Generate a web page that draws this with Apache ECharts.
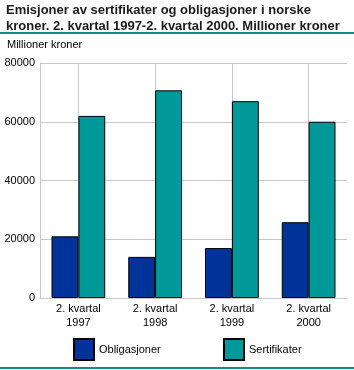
<!DOCTYPE html>
<html>
<head>
<meta charset="utf-8">
<script src="https://cdn.jsdelivr.net/npm/echarts@6/dist/echarts.min.js"></script>
<style>
  html, body { margin: 0; padding: 0; background: #fff; }
  #main { width: 354px; height: 370px; }
</style>
</head>
<body>
<div id="main"></div>
<script>
// data
const categories = ["2. kvartal\n1997", "2. kvartal\n1998", "2. kvartal\n1999", "2. kvartal\n2000"];
const obligasjoner = [21000, 14000, 17000, 25800];
const sertifikater = [62000, 70700, 67000, 60000];
const yTicks = [0, 20000, 40000, 60000, 80000];

const chartDom = document.getElementById("main");
const myChart = echarts.init(chartDom);

const font = "Liberation Sans, Arial, sans-serif";

const option = {
  animation: false,
  title: [
    {
      text: "Emisjoner av sertifikater og obligasjoner i norske\nkroner. 2. kvartal 1997-2. kvartal 2000. Millioner kroner",
      left: 1,
      top: -3,
      textStyle: { fontFamily: font, fontSize: 13, fontWeight: "bold", color: "#1a1a1a", lineHeight: 16 }
    },
    {
      text: "Millioner kroner",
      left: 2,
      top: 34,
      textStyle: { fontFamily: font, fontSize: 11, fontWeight: "normal", color: "#000" }
    }
  ],
  graphic: [
    { type: "rect", shape: { x: 0, y: 32, width: 354, height: 2 }, style: { fill: "#0a8c8c" } },
    { type: "rect", shape: { x: 0, y: 367, width: 354, height: 2 }, style: { fill: "#0a8c8c" } }
  ],
  legend: [
    {
      data: ["Obligasjoner"],
      left: 68, top: 333,
      itemWidth: 20, itemHeight: 21, itemGap: 6,
      icon: "rect",
      textStyle: { fontFamily: font, fontSize: 11, color: "#000" }
    },
    {
      data: ["Sertifikater"],
      left: 218, top: 333,
      itemWidth: 20, itemHeight: 21,
      icon: "rect",
      textStyle: { fontFamily: font, fontSize: 11, color: "#000" }
    }
  ],
  grid: { left: 40, right: 7, top: 63, bottom: 72, containLabel: false },
  xAxis: [
    {
      type: "category",
      data: categories,
      axisLine: { lineStyle: { color: "#c8c8c8" } },
      axisTick: { show: false },
      splitLine: { show: false },
      axisLabel: { fontFamily: font, fontSize: 11, color: "#000", lineHeight: 14, margin: 4 }
    },
    {
      // hidden helper axis: vertical grid lines at category centres
      type: "value",
      min: 0,
      max: 8,
      interval: 1,
      position: "bottom",
      axisLine: { show: false },
      axisTick: { show: false },
      axisLabel: { show: false },
      splitLine: {
        show: true,
        lineStyle: { color: ["rgba(0,0,0,0)", "#c8c8c8"] }
      }
    }
  ],
  yAxis: {
    type: "value",
    min: 0,
    max: 80000,
    interval: 20000,
    axisLine: { show: true, lineStyle: { color: "#c8c8c8" } },
    axisTick: { show: false },
    splitLine: { lineStyle: { color: "#c8c8c8" } },
    axisLabel: {
      fontFamily: font, fontSize: 11, color: "#000", margin: 5,
      formatter: function (v) { return yTicks.indexOf(v) >= 0 ? String(v) : ""; }
    }
  },
  series: [
    {
      name: "Obligasjoner",
      type: "bar",
      data: obligasjoner,
      barGap: "0%",
      barCategoryGap: "30%",
      itemStyle: { color: "#003399", borderColor: "#000", borderWidth: 1 }
    },
    {
      name: "Sertifikater",
      type: "bar",
      data: sertifikater,
      itemStyle: { color: "#009999", borderColor: "#000", borderWidth: 1 }
    }
  ]
};

option && myChart.setOption(option);
</script>
</body>
</html>
